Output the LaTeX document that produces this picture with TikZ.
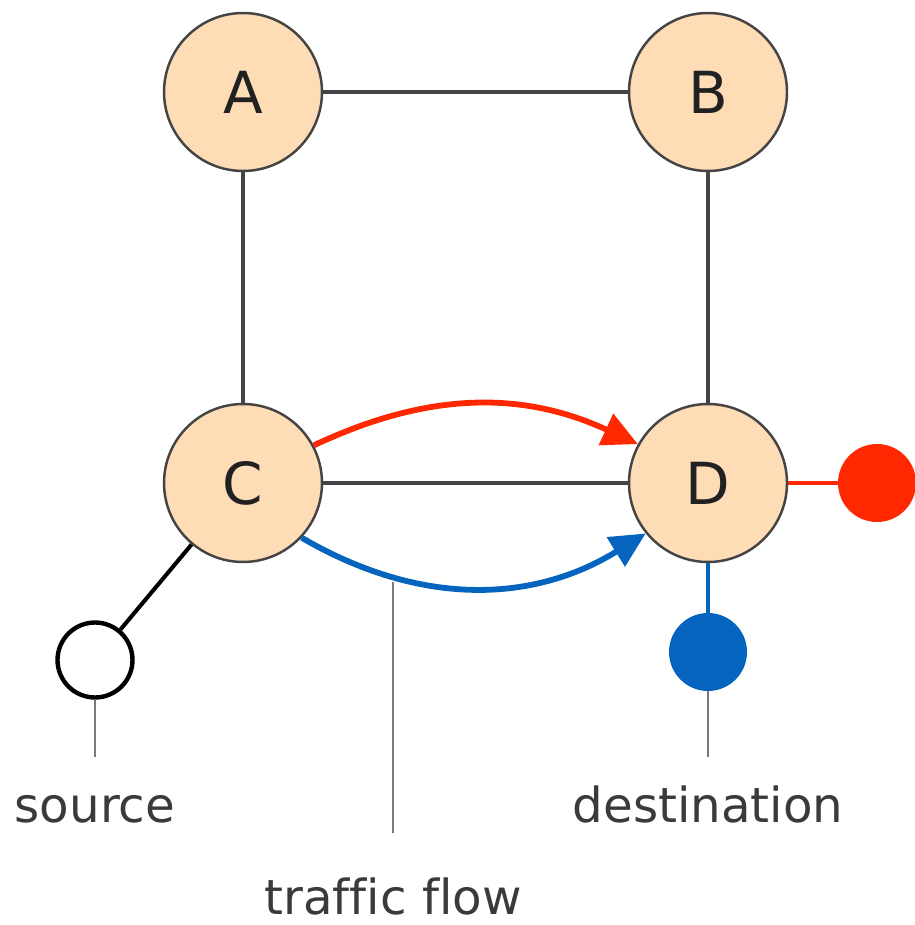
\documentclass[tikz,border=0pt]{standalone}
\usepackage{fontspec}
\setmainfont[Ligatures=NoCommon]{DejaVu Sans}
\usetikzlibrary{arrows.meta}
\definecolor{peach}{HTML}{FDDCB6}
\definecolor{edgegray}{HTML}{444444}
\definecolor{leadgray}{HTML}{7A7A7A}
\definecolor{txtgray}{HTML}{3A3A3A}
\definecolor{flowred}{HTML}{FF2800}
\definecolor{flowblue}{HTML}{0464BE}
\tikzset{
  router/.style={circle, draw=edgegray, line width=1.4pt, fill=peach,
    minimum size=3.16cm, inner sep=0pt, text=black!87,
    font=\fontsize{33}{33}\selectfont},
  link/.style={draw=edgegray, line width=2.3pt},
  flow/.style={line width=3.3pt, -{Triangle[length=20pt,width=19pt]}},
  enddot/.style={circle, minimum size=1.56cm, inner sep=0pt},
  leader/.style={draw=leadgray, line width=1.1pt},
  lbl/.style={anchor=base, text=txtgray, font=\fontsize{27.5}{27.5}\selectfont, inner sep=0pt}
}
\begin{document}
\begin{tikzpicture}[x=0.02cm, y=-0.02cm]
\useasboundingbox (0,0) rectangle (914,925);

% labels and leaders
\coordinate (srcend) at (95,757);
\coordinate (dstend) at (708,757);
\coordinate (flowtop) at (393,582);
\coordinate (flowend) at (393,833);
\node[lbl] (lsrc) at (95,822) {source};
\node[lbl] (ldst) at (708,822) {destination};
\node[lbl] (lflow) at (393,914) {traffic flow};
\draw[leader] (flowtop) -- (flowend);

% routers
\node[router] (A) at (243,92) {A};
\node[router] (B) at (708,92) {B};
\node[router] (C) at (243,483) {C};
\node[router] (D) at (708,483) {D};

% links between routers
\draw[link] (A) -- (B);
\draw[link] (A) -- (C);
\draw[link] (B) -- (D);
\draw[link] (C) -- (D);

% traffic flows
\draw[flow, flowred] (C.28) to[bend left=25] (D.151);
\draw[flow, flowblue] (C.-43) to[bend right=31] (D.-141);

% endpoints
\node[enddot, fill=flowred] (dr) at (877,483) {};
\node[enddot, fill=flowblue] (db) at (708,652) {};
\node[circle, draw=black, line width=2.5pt, fill=white, minimum size=1.5cm, inner sep=0pt] (src) at (95,660) {};
\draw[flowred, line width=2pt] (D) -- (dr);
\draw[flowblue, line width=2pt] (D) -- (db);
\draw[black, line width=2.3pt] (C) -- (src);
\draw[leader] (src) -- (srcend);
\draw[leader] (db) -- (dstend);
\end{tikzpicture}
\end{document}
